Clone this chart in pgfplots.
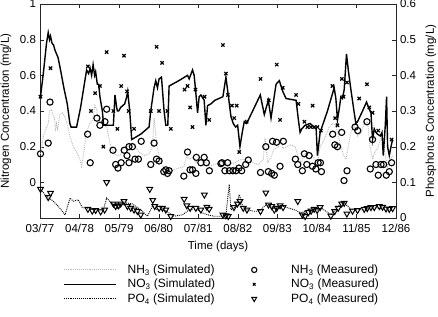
\documentclass[border=0pt]{standalone}
\usepackage{fontspec}
\setmainfont{Liberation Sans}
\usepackage{pgfplots}
\pgfplotsset{compat=1.18}
\begin{document}
\fontsize{11.5}{13.5}\selectfont
\begin{tikzpicture}
\useasboundingbox (-40pt,-98pt) rectangle (398pt,218pt);
\pgfplotsset{
  base/.style={scale only axis, width=356pt, height=214pt,
    xmin=39.5, xmax=394.7,
    font=\fontsize{11.5}{13.5}\selectfont,
    /pgf/number format/assume math mode=true,
    tick align=inside, axis line style={black!85}, tick style={black!85},
    major tick length=4pt},
  nhsim/.style={gray!55, line width=0.9pt, densely dotted},
  nosim/.style={black, line width=1.4pt},
  posim/.style={black, line width=0.9pt, densely dotted},
  nhmeas/.style={only marks, mark=o, mark size=3.1pt, line width=1.1pt, black},
  nomeas/.style={only marks, mark=x, mark size=2.3pt, line width=1.2pt, black},
  pomeas/.style={only marks, mark=triangle, mark size=3.3pt, line width=1pt, black, mark options={rotate=180}},
  limg/.style={/pgfplots/legend image code/.code={\draw[##1] (0pt,0pt) -- (52pt,0pt);}},
}
\begin{axis}[base,
  ymin=-0.2, ymax=1, ytick={0,0.2,0.4,0.6,0.8,1}, ytick pos=left,
  xtick={39.5,78.97,118.43,157.9,197.37,236.83,276.3,315.77,355.23,394.7},
  xticklabels={03/77,04/78,05/79,06/80,07/81,08/82,09/83,10/84,11/85,12/86},
  xticklabel style={yshift=-2pt},
  xlabel={Time (days)}, ylabel={Nitrogen Concentration (mg/L)},
  xlabel style={at={(axis description cs:0.5,-0.1355)}, anchor=center},
  ylabel style={at={(axis description cs:-0.0955,0.5)}, anchor=center},
  legend columns=2, legend cell align=left,
  legend style={at={(axis description cs:0.0646,-0.208)}, anchor=north west, draw=none, fill=none,
    inner sep=0pt, font=\fontsize{12}{14}\selectfont, row sep=0pt,
    /tikz/every odd column/.append style={column sep=9pt},
    /tikz/every even column/.append style={column sep=11pt}},
]
\addlegendimage{nhsim, limg}\addlegendentry{NH\textsubscript{3} (Simulated)}
\addlegendimage{black, legend image code/.code={\path[draw=none] (0pt,-3pt) rectangle (52pt,3pt); \draw[black, line width=1.1pt, solid] plot[mark=o, mark size=2.6pt, only marks] coordinates {(26pt,0pt)};}}\addlegendentry{NH\textsubscript{3} (Measured)}
\addlegendimage{nosim, limg}\addlegendentry{NO\textsubscript{3} (Simulated)}
\addlegendimage{black, legend image code/.code={\path[draw=none] (0pt,-3pt) rectangle (52pt,3pt); \draw[black, line width=1.2pt, solid] plot[mark=x, mark size=1.8pt, only marks] coordinates {(26pt,0pt)};}}\addlegendentry{NO\textsubscript{3} (Measured)}
\addlegendimage{posim, limg}\addlegendentry{PO\textsubscript{4} (Simulated)}
\addlegendimage{black, legend image code/.code={\path[draw=none] (0pt,-3pt) rectangle (52pt,3pt); \draw[black, line width=1pt, solid] plot[mark=triangle, mark size=2.8pt, mark options={rotate=180}, only marks] coordinates {(26pt,0pt)};}}\addlegendentry{PO\textsubscript{4} (Measured)}

% NH3 simulated
\addplot[nhsim, forget plot] coordinates {
(40,0.16) (43.3,0.27) (47.7,0.33) (49,0.40) (51,0.41) (52.7,0.37) (54,0.36) (55,0.30) (56,0.33) (57,0.29) (58,0.33) (59.3,0.38) (62,0.39) (64,0.37) (66,0.34) (69.3,0.26) (72.7,0.20) (76,0.17) (79.3,0.13) (81,0.09) (82.7,0.15) (86,0.28) (89.3,0.33) (92,0.35) (94.3,0.43) (96,0.41) (97.7,0.35) (101,0.33) (106,0.31) (109.3,0.22) (112.7,0.17) (116,0.15) (119.3,0.15) (122.7,0.19) (126,0.20) (129.3,0.20) (131.7,0.22) (138.3,0.17) (143.3,0.15) (148.3,0.16) (151.7,0.20) (153.3,0.36) (155.7,0.22) (158.3,0.15) (161.7,0.09) (165,0.07) (171.7,0.07) (178.3,0.08) (183.3,0.09) (186,0.15) (188.3,0.13) (191.7,0.14) (195,0.11) (198.3,0.13) (203.3,0.12) (208.3,0.09) (213.3,0.10) (220,0.11) (227.3,0.10) (234,0.11) (240.7,0.13) (247.3,0.12) (257.3,0.10) (262.3,0.13) (264,0.25) (266.7,0.11) (270.7,0.15) (272.3,0.18) (274.7,0.19) (277.3,0.20) (280,0.25) (281.7,0.19) (285.7,0.20) (290,0.21) (294,0.20) (296.7,0.15) (300,0.11) (303.3,0.16) (307.3,0.17) (311.3,0.15) (316.3,0.11) (319,0.20) (323,0.24) (328,0.31) (331.3,0.33) (334.7,0.32) (338,0.24) (342.3,0.15) (344.7,0.13) (347,0.20) (349.7,0.28) (353,0.32) (356.3,0.26) (359.7,0.28) (363,0.33) (366.3,0.34) (369,0.19) (371.3,0.13) (373.7,0.17) (376.3,0.19) (379,0.24) (381.3,0.26) (384,0.15) (386.3,0.09) (389,0.13) (391.3,0.15)
};
% NO3 simulated
\addplot[nosim, forget plot] coordinates {
(40,0.48) (43,0.62) (46,0.78) (47.7,0.84) (49,0.80) (50,0.82) (51.5,0.78) (53,0.77) (54.5,0.74) (56,0.72) (57.5,0.70) (60,0.63) (63.3,0.53) (66.7,0.44) (69.3,0.33) (70.5,0.31) (76,0.31) (80,0.42) (84,0.56) (86,0.63) (88,0.61) (89.5,0.64) (91,0.60) (92.5,0.66) (94,0.60) (95,0.62) (96.7,0.55) (98,0.55) (99.3,0.48) (101.7,0.40) (103,0.32) (112.7,0.32) (114.3,0.49) (116,0.42) (116.7,0.40) (118,0.40) (120,0.42) (124,0.44) (126,0.48) (127,0.51) (129,0.40) (131,0.24) (140,0.27) (148.3,0.31) (150,0.40) (153.3,0.53) (155,0.57) (156.7,0.53) (158.3,0.58) (160.7,0.59) (163.3,0.40) (165,0.32) (167,0.32) (168.3,0.54) (178,0.57) (186.7,0.60) (188.3,0.58) (191.7,0.63) (193.3,0.60) (195,0.50) (196.7,0.39) (198.3,0.48) (200,0.49) (203.3,0.46) (205,0.32) (206.7,0.43) (210,0.44) (214,0.46) (222,0.48) (225,0.59) (227.3,0.49) (230,0.37) (232.3,0.33) (234.7,0.31) (236.7,0.32) (239,0.20) (241.3,0.28) (243.3,0.34) (245.7,0.33) (259.3,0.49) (263.3,0.38) (267.3,0.46) (270,0.36) (275,0.55) (278.3,0.57) (281.7,0.51) (285,0.47) (295,0.46) (297.3,0.35) (299,0.28) (300.7,0.30) (304,0.32) (309,0.33) (313,0.31) (315,0.30) (316.3,0.15) (319,0.28) (326.3,0.40) (333,0.53) (334.7,0.47) (336.3,0.35) (338,0.41) (339.7,0.48) (341.3,0.47) (343,0.52) (345.3,0.72) (347.3,0.62) (349.7,0.52) (353,0.39) (354.7,0.33) (356.3,0.34) (361.3,0.40) (365.3,0.45) (368,0.41) (369.7,0.39) (371.3,0.24) (373,0.30) (374.7,0.28) (376.3,0.27) (379,0.26) (380.7,0.28) (382,0.15) (384,0.32) (385.3,0.48) (386.3,0.20) (388,0.15) (389.7,0.20) (391.3,0.24)
};
% NH3 measured
\addplot[nhmeas, forget plot] coordinates {
(40,0.16) (47.7,0.22) (49.5,0.45) (87,0.27) (89.6,0.11) (96.3,0.36) (99.3,0.32) (104.3,0.34) (106,0.41) (112.3,0.18) (115,0.10) (117.3,0.08) (120.5,0.11) (123.5,0.18) (126.3,0.15) (128.3,0.20) (128.3,0.11) (131.7,0.20) (134.3,0.13) (137.7,0.13) (140.5,0.23) (150,0.10) (153.3,0.22) (155.7,0.13) (158.3,0.12) (163,0.06) (165,0.07) (166.7,0.05) (168.3,0.065) (183,0.035) (186.7,0.17) (189.2,0.07) (191.7,0.07) (195,0.05) (195.5,0.14) (200,0.11) (203.3,0.14) (205.5,0.11) (208.5,0.065) (220,0.105) (221,0.11) (224,0.065) (226.7,0.11) (228.5,0.065) (232,0.065) (235,0.065) (238,0.08) (240.7,0.065) (244.7,0.10) (247.3,0.125) (259.5,0.055) (264.8,0.20) (267.3,0.06) (270.7,0.05) (271.5,0.23) (273.3,0.04) (275.5,0.225) (279,0.09) (282.3,0.23) (294.3,0.13) (296.7,0.10) (301.3,0.065) (303.3,0.16) (305.7,0.10) (308,0.15) (311.3,0.09) (314.7,0.075) (317,0.11) (319.3,0.11) (320.3,0.06) (331.5,0.27) (333.7,0.21) (336.3,0.20) (340.5,0.28) (342.8,0.01) (345.8,0.065) (353.8,0.31) (356.5,0.29) (365.7,0.34) (369,0.075) (371.3,0.24) (374.7,0.10) (377,0.04) (379.7,0.10) (382.3,0.10) (385,0.04) (388,0.06) (390.3,0.11)
};
% NO3 measured
\addplot[nomeas, forget plot] coordinates {
(40,0.48) (50,0.64) (87.3,0.65) (90.3,0.40) (94.5,0.50) (99.3,0.54) (102.7,0.20) (106,0.73) (112.7,0.40) (116.7,0.30) (120.5,0.54) (123.3,0.71) (126.3,0.51) (128,0.40) (133.3,0.30) (150,0.40) (155.8,0.76) (161.3,0.67) (158.3,0.40) (166.7,0.40) (170,0.30) (183.7,0.52) (186.7,0.54) (189.3,0.42) (191.7,0.31) (194.6,0.52) (203.7,0.48) (208.3,0.35) (222,0.77) (225,0.61) (227,0.49) (231,0.43) (235.8,0.43) (233.3,0.36) (238.3,0.17) (245.7,0.34) (259.5,0.58) (267.7,0.46) (275.7,0.66) (279,0.35) (281.7,0.53) (295,0.49) (297.3,0.44) (303.3,0.34) (306.3,0.31) (309.7,0.31) (311.5,0.43) (313,0.31) (316.3,0.31) (319.7,0.29) (331.3,0.54) (334,0.36) (336.3,0.32) (340.7,0.58) (342.3,0.48) (345.7,0.56) (358,0.47) (365.7,0.55) (368,0.42) (371.3,0.39) (377,0.29) (390.3,0.24)
};
\end{axis}
\begin{axis}[base,
  ymin=0, ymax=0.6, ytick={0,0.1,0.2,0.3,0.4,0.5,0.6},
  axis y line*=right, axis x line=none,
  ylabel={Phosphorus Concentration (mg/L)},
  ylabel style={at={(axis description cs:1.098,0.5)}, anchor=center},
]
% PO4 simulated
\addplot[posim] coordinates {
(40,0.079) (46.7,0.06) (52.7,0.047) (57.7,0.033) (64.5,0.009) (69.5,0.056) (72.7,0.047) (77.7,0.051) (81.5,0.03) (86,0.026) (90,0.026) (96,0.023) (102.7,0.023) (106,0.056) (109.5,0.045) (113.3,0.04) (117.7,0.025) (121,0.037) (126,0.042) (131.3,0.04) (140,0.023) (146.7,0.005) (151.7,0.033) (156.7,0.023) (163.3,0.023) (168.3,0.014) (173.3,0.005) (181.7,0.009) (188.3,0.023) (196.7,0.023) (201.7,0.014) (206.7,0.009) (213.3,0.005) (220,0.005) (225,0.009) (228.3,0.094) (230,0.023) (235,0.033) (238.3,0.066) (241.7,0.033) (245,0.023) (253.3,0.019) (258.3,0.019) (265,0.037) (270,0.033) (275,0.028) (281.7,0.033) (293.3,0.023) (300,0.014) (306.7,0.023) (313.3,0.019) (320,0.028) (330,0.009) (338.3,0.037) (343.3,0.042) (350,0.023) (356.7,0.023) (363.3,0.023) (370,0.028) (376.7,0.028) (383.3,0.023) (390,0.023)
};
% PO4 measured
\addplot[pomeas] coordinates {
(40,0.081) (47.7,0.058) (50,0.07) (87.3,0.025) (91.7,0.02) (95,0.022) (100,0.018) (104,0.023) (106,0.1) (112.7,0.04) (115,0.033) (117.7,0.035) (120,0.04) (123.3,0.047) (126.7,0.033) (130,0.028) (133.3,0.023) (136.7,0.019) (140,0.009) (149,0.081) (152,0.05) (154,0.033) (158.3,0.028) (161.7,0.028) (165,0.023) (170,0.005) (183.3,0.053) (186,0.035) (189.3,0.028) (195,0.028) (200,0.023) (203.5,0.065) (206,0.031) (208.3,0.025) (222,0.009) (225,0.007) (227.3,0.005) (233,0.03) (236.5,0.04) (239,0.047) (242.3,0.028) (246,0.023) (259.5,0.019) (264.8,0.071) (267.5,0.037) (270.7,0.033) (273.3,0.023) (275.7,0.028) (279,0.035) (282,0.03) (296.7,0.047) (301.3,0.009) (304,0.005) (307.3,0.016) (310,0.02) (313,0.025) (316,0.022) (319,0.03) (329.7,0.006) (333.5,0.019) (337,0.028) (340.5,0.04) (343,0.042) (345.7,0.012) (351.3,0.02) (356.3,0.022) (363,0.025) (366,0.027) (369.7,0.03) (373,0.03) (378,0.033) (381.3,0.031) (384.7,0.026) (388,0.025) (391.3,0.027)
};
\end{axis}
\end{tikzpicture}
\end{document}
